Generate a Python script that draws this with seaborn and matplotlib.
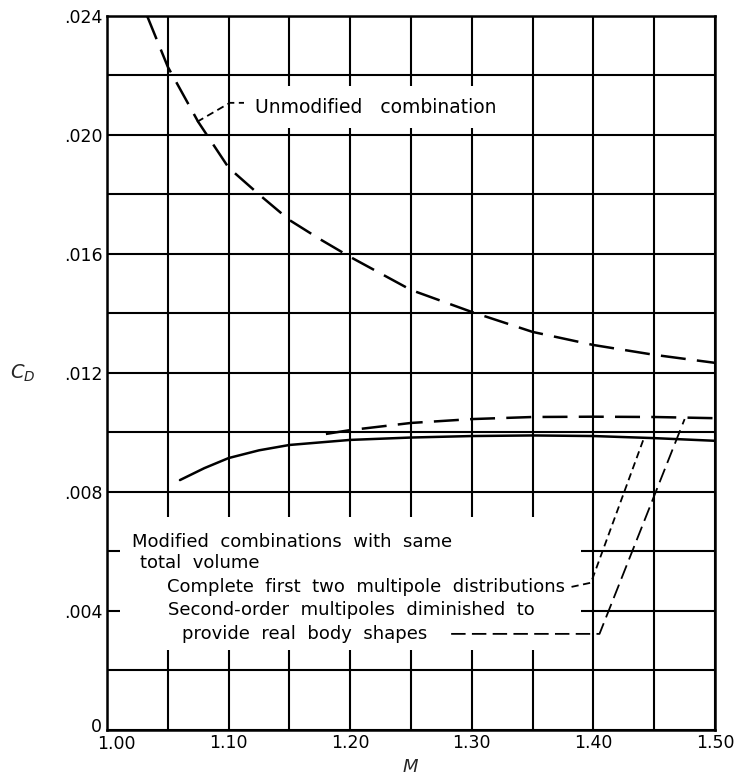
import matplotlib
matplotlib.use('Agg')
import matplotlib.pyplot as plt
from matplotlib.patches import Rectangle
from matplotlib.ticker import MultipleLocator, FuncFormatter
import seaborn as sns
import pandas as pd

# Values
mach_unmod = [1.033, 1.05, 1.075, 1.10, 1.125, 1.15, 1.175, 1.20, 1.25, 1.30, 1.35, 1.40, 1.45, 1.50]
cd_unmod = [0.0240, 0.02229, 0.02044, 0.0189, 0.0180, 0.01714, 0.0165, 0.0159, 0.01479, 0.01405,
            0.01338, 0.01294, 0.01261, 0.01234]

mach_complete = [1.06, 1.08, 1.10, 1.125, 1.15, 1.20, 1.25, 1.30, 1.35, 1.40, 1.45, 1.50]
cd_complete = [0.0084, 0.0088, 0.00914, 0.0094, 0.00958, 0.00975, 0.00983, 0.00988, 0.00990,
               0.00988, 0.00981, 0.00972]

mach_diminished = [1.18, 1.20, 1.25, 1.30, 1.35, 1.40, 1.45, 1.50]
cd_diminished = [0.00995, 0.01008, 0.01032, 0.01045, 0.01052, 0.01053, 0.01052, 0.01048]

sns.set_style('white')
plt.rcParams['font.family'] = ['DejaVu Sans']
plt.rcParams['text.color'] = 'black'

fig = plt.figure(figsize=(7.36, 7.75), dpi=100)
ax = fig.add_axes([0.1454, 0.0581, 0.8261, 0.9213])

unmod = pd.DataFrame({'M': mach_unmod, 'CD': cd_unmod})
comp = pd.DataFrame({'M': mach_complete, 'CD': cd_complete})
dim = pd.DataFrame({'M': mach_diminished, 'CD': cd_diminished})

sns.lineplot(data=unmod, x='M', y='CD', ax=ax, color='black', lw=1.8,
             linestyle=(0, (10, 4.5)), sort=False, estimator=None, zorder=3)
sns.lineplot(data=comp, x='M', y='CD', ax=ax, color='black', lw=1.8,
             sort=False, estimator=None, zorder=3)
sns.lineplot(data=dim, x='M', y='CD', ax=ax, color='black', lw=1.8,
             linestyle=(0, (10, 4.5)), sort=False, estimator=None, zorder=3)

ax.set_xlim(1.0, 1.5)
ax.set_ylim(0, 0.024)
ax.xaxis.set_major_locator(MultipleLocator(0.10))
ax.xaxis.set_minor_locator(MultipleLocator(0.05))
ax.yaxis.set_major_locator(MultipleLocator(0.004))
ax.yaxis.set_minor_locator(MultipleLocator(0.002))
# the two corner labels are placed by hand below
ax.xaxis.set_major_formatter(FuncFormatter(lambda v, p: '' if abs(v - 1.0) < 1e-9 else f'{v:.2f}'))
ax.yaxis.set_major_formatter(FuncFormatter(lambda v, p: '' if abs(v) < 1e-9 else f'{v:.3f}'.lstrip('0')))
ax.set_axisbelow(True)
ax.grid(which='both', color='black', lw=1.5)
ax.tick_params(which='both', length=0, labelsize=12.5, colors='black', pad=3)
for s in ax.spines.values():
    s.set_color('black')
    s.set_linewidth(1.8)

ax.annotate('0', xy=(1.0, 0), xytext=(-3.5, 2), textcoords='offset points',
            ha='right', va='center', fontsize=12.5)
ax.annotate('1.00', xy=(1.0, 0), xytext=(7, -3.5), textcoords='offset points',
            ha='center', va='top', fontsize=12.5)

ax.set_xlabel('$M$', fontsize=13, labelpad=4)
ax.set_ylabel('$C_D$', fontsize=14, rotation=0, labelpad=30, va='center')

# white area behind the label group
ax.add_patch(Rectangle((1.011, 0.0027), 0.379, 0.00446, facecolor='white',
                       edgecolor='none', zorder=1.5))

ax.text(1.122, 0.02094, 'Unmodified   combination', fontsize=13.5, va='center', zorder=4,
        bbox=dict(facecolor='white', edgecolor='none', pad=8))
ax.plot([1.074, 1.101, 1.12], [0.02044, 0.02108, 0.02108], color='black', lw=1.3,
        linestyle=(0, (4, 2.5)), zorder=3)

fs = 13
ax.text(1.0205, 0.00632, 'Modified  combinations  with  same', fontsize=fs, va='center', zorder=4)
ax.text(1.027, 0.00561, 'total  volume', fontsize=fs, va='center', zorder=4)
ax.text(1.049, 0.00481, 'Complete  first  two  multipole  distributions', fontsize=fs,
        va='center', zorder=4)
ax.text(1.050, 0.00403, 'Second-order  multipoles  diminished  to', fontsize=fs, va='center', zorder=4)
ax.text(1.0615, 0.00323, 'provide  real  body  shapes', fontsize=fs, va='center', zorder=4)

ax.plot([1.382, 1.398, 1.441], [0.00481, 0.00495, 0.00975], color='black', lw=1.3,
        linestyle=(0, (4, 2.5)), zorder=3)
ax.plot([1.283, 1.405, 1.475], [0.00323, 0.00323, 0.01045], color='black', lw=1.3,
        linestyle=(0, (8, 3.5)), zorder=3)

fig.savefig('out.png', dpi=100)
